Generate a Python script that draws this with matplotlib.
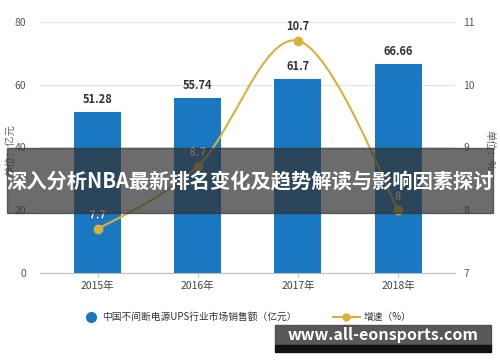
import matplotlib
matplotlib.use("Agg")
import matplotlib.pyplot as plt
from matplotlib.path import Path
from matplotlib.patches import PathPatch, Rectangle
from matplotlib.lines import Line2D
import matplotlib.patheffects as pe
import numpy as np

plt.rcParams['font.family'] = ['Noto Sans CJK SC', 'DejaVu Sans']

categories = ['2015年', '2016年', '2017年', '2018年']
sales = [51.28, 55.74, 61.7, 66.66]
growth = [7.7, 8.7, 10.7, 8]
sales_labels = ['51.28', '55.74', '61.7', '66.66']
growth_labels = ['7.7', '8.7', '10.7', '8']
left_ticks = [0, 20, 40, 60, 80]
right_ticks = [7, 8, 9, 10, 11]
title = '深入分析NBA最新排名变化及趋势解读与影响因素探讨'
site = 'www.all-eonsports.com'
legend_bar = '中国不间断电源UPS行业市场销售额（亿元）'
legend_line = '增速（%）'

BAR = '#1a78c2'
LINE = '#d8b13c'

fig = plt.figure(figsize=(5, 3.62), dpi=100)
ax = fig.add_axes([0.08, 0.2459, 0.83, 0.6934])
x = np.arange(len(categories))
ax.bar(x, sales, width=0.47, color=BAR, zorder=2)
ax.set_xlim(-0.574, 3.568)
ax.set_ylim(0, 80)
ax.set_yticks(left_ticks)
ax.set_xticks(x)
ax.set_xticklabels(categories)
ax.grid(axis='y', color='#e3e3e3', lw=0.8, zorder=0)
for s in ['top', 'right', 'left']:
    ax.spines[s].set_visible(False)
ax.spines['bottom'].set_color('#bbbbbb')
ax.tick_params(axis='y', length=0, labelsize=7.5, labelcolor='#555555', pad=10)
ax.tick_params(axis='x', length=3, color='#bbbbbb', labelsize=7.5, labelcolor='#444444', pad=3)
for xi, v, lab in zip(x, sales, sales_labels):
    ax.text(xi, v + 2, lab, ha='center', va='bottom', fontsize=8, fontweight='bold', color='#333333')

ax2 = ax.twinx()
ax2.set_ylim(7, 11)
ax2.set_yticks(right_ticks)
for s in ax2.spines.values():
    s.set_visible(False)
ax2.tick_params(axis='y', length=0, labelsize=7.5, labelcolor='#555555', pad=6)

# smooth curve via Catmull-Rom to cubic Bezier
pts = np.column_stack([x, growth]).astype(float)
verts = [tuple(pts[0])]
codes = [Path.MOVETO]
t = 0.35
n = len(pts)
for i in range(n - 1):
    p0 = pts[i - 1] if i > 0 else pts[i]
    p1 = pts[i]
    p2 = pts[i + 1]
    p3 = pts[i + 2] if i + 2 < n else pts[i + 1]
    c1 = p1 + (p2 - p0) * t / 2 * (1 if i > 0 else 0.5)
    c2 = p2 - (p3 - p1) * t / 2 * (1 if i + 2 < n else 0.5)
    verts += [tuple(c1), tuple(c2), tuple(p2)]
    codes += [Path.CURVE4] * 3
ax2.add_patch(PathPatch(Path(verts, codes), fill=False, edgecolor=LINE, lw=1.5, zorder=3))
ax2.plot(x, growth, 'o', color=LINE, ms=6, zorder=4)
for xi, v, lab in zip(x, growth, growth_labels):
    if xi == 2:
        ax2.text(xi, v + 0.12, lab, ha='center', va='bottom', fontsize=8, fontweight='bold', color='#333333')
    else:
        ax2.text(xi, v + 0.12, lab, ha='center', va='bottom', fontsize=8, fontweight='bold',
                 style='italic', color='white',
                 path_effects=[pe.withStroke(linewidth=1.5, foreground='#2a5b85')])

fig.text(0.022, 1 - 150 / 362, '单位：亿元', rotation=90, ha='center', va='center', fontsize=7.5, color='#666666')
fig.text(0.978, 1 - 150 / 362, '单位：%', rotation=-90, ha='center', va='center', fontsize=7.5, color='#666666')

# legend
ly = 1 - 317 / 362
fig.add_artist(Line2D([0.182], [ly], marker='o', ms=7, color=BAR, transform=fig.transFigure))
fig.text(0.205, ly, legend_bar, ha='left', va='center', fontsize=7, color='#333333')
fig.add_artist(Line2D([0.665, 0.72], [ly] * 2, color=LINE, lw=1.5, transform=fig.transFigure))
fig.add_artist(Line2D([0.6925], [ly], marker='o', ms=5, color=LINE, transform=fig.transFigure))
fig.text(0.728, ly, legend_line, ha='left', va='center', fontsize=7, color='#333333')

# title banner
fig.add_artist(Rectangle((7 / 500, 1 - 213 / 362), 486 / 500, 65 / 362, transform=fig.transFigure,
                         color='#333333', alpha=0.72, zorder=10))
fig.text(0.5, 1 - 181 / 362, title, ha='center', va='center', fontsize=14.6, fontweight='bold',
         color='white', zorder=11)
# site banner
fig.add_artist(Rectangle((275 / 500, 1 - 345 / 362), 216 / 500, 20 / 362, transform=fig.transFigure,
                         color='#4a4a4a', alpha=0.92, zorder=10))
fig.add_artist(Rectangle((275 / 500, 1 - 352 / 362), 216 / 500, 7 / 362, transform=fig.transFigure,
                         color='#111111', zorder=10))
fig.text(383 / 500, 1 - 335 / 362, site, ha='center', va='center', fontsize=11.5, fontweight='bold',
         color='white', zorder=11)

fig.savefig('out.png', dpi=100)
